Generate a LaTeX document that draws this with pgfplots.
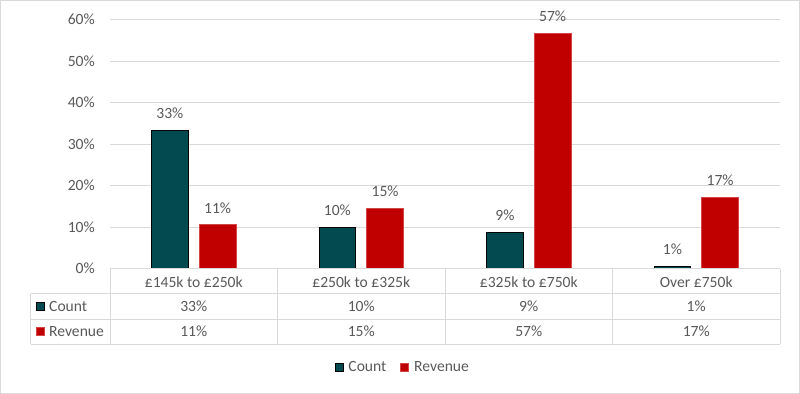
\documentclass[border=0pt]{standalone}
\usepackage{fontspec}
\setmainfont{Carlito}
\usepackage{pgfplots}
\pgfplotsset{compat=1.18}
\usepackage{pgfplotstable}
\definecolor{countc}{RGB}{2,73,80}
\definecolor{revc}{RGB}{192,0,0}
\definecolor{revedge}{RGB}{212,70,70}
\definecolor{gridc}{RGB}{217,217,217}
\definecolor{txt}{RGB}{89,89,89}

\pgfplotstableread{
x y lab
0 33.3 33
1 9.9 10
2 8.7 9
3 0.5 1
}\countdata
\pgfplotstableread{
x y lab
0 10.6 11
1 14.5 15
2 56.7 57
3 17.2 17
}\revdata

\begin{document}
\begin{tikzpicture}[font=\fontsize{15.6bp}{18bp}\selectfont, text=txt]
\useasboundingbox (0,0) rectangle (800bp,-394bp);
\begin{axis}[
  at={(110bp,-268.5bp)}, anchor=south west,
  scale only axis, width=670bp, height=249bp,
  xmin=-0.5, xmax=3.5, ymin=0, ymax=60,
  ybar=11bp, bar width=36.7bp,
  axis line style={draw=none},
  major tick length=0pt,
  xtick={0,1,2,3},
  xticklabels={£145k to £250k, £250k to £325k, £325k to £750k, Over £750k},
  ytick={0,10,20,30,40,50,60},
  yticklabels={0\%,10\%,20\%,30\%,40\%,50\%,60\%},
  ymajorgrids, grid style={gridc, line width=1bp},
  yticklabel style={anchor=east, inner sep=0pt, xshift=-15bp, text=txt},
  xticklabel style={anchor=base, inner sep=0pt, yshift=-18.5bp, text=txt},
  point meta=explicit symbolic,
  nodes near coords={\pgfplotspointmeta\%},
  every node near coord/.append style={anchor=base, inner sep=0pt, yshift=11.5bp, text=txt},
  legend style={draw=none, fill=none, at={(0.437,-0.398)}, anchor=center,
    legend columns=2, text=txt,
    /tikz/every even column/.append style={column sep=12bp}},
  legend image code/.code={\draw[#1] (0bp,-4bp) rectangle (8bp,4bp); \path (11bp,0bp);},
]
\addplot[fill=countc, draw=black, line width=0.8bp] table[x=x,y=y,meta=lab]{\countdata};
\addplot[fill=revc, draw=revedge, line width=0.8bp] table[x=x,y=y,meta=lab]{\revdata};
\legend{Count,Revenue}
\end{axis}
\begin{scope}[x=1bp,y=-1bp]
  \draw[gridc, line width=1.5bp] (0.75,0.75) rectangle (799.25,393.25);
  \begin{scope}[gridc, line width=1bp]
    \draw (110,268.5) -- (780,268.5);
    \draw (30.5,293.5) -- (780,293.5);
    \draw (30.5,319) -- (780,319);
    \draw (30.5,344) -- (780,344);
    \foreach \xx in {110,277.5,445,612.5,780} \draw (\xx,268.5) -- (\xx,344);
    \draw (30.5,293.5) -- (30.5,344);
  \end{scope}
  \draw[fill=countc, draw=black, line width=0.6bp] (36.5,302) rectangle (44.5,310);
  \draw[fill=revc, draw=revedge, line width=0.6bp] (36.5,327.5) rectangle (44.5,335.5);
  \node[anchor=base west, inner sep=0pt] at (49,311.5) {Count};
  \node[anchor=base west, inner sep=0pt] at (49,336.5) {Revenue};
  \foreach \cx/\a/\b in {193.75/33/11, 361.25/10/15, 528.75/9/57, 696.25/1/17} {
    \node[anchor=base, inner sep=0pt] at (\cx,311.5) {\a\%};
    \node[anchor=base, inner sep=0pt] at (\cx,336.5) {\b\%};
  }
\end{scope}
\end{tikzpicture}
\end{document}
